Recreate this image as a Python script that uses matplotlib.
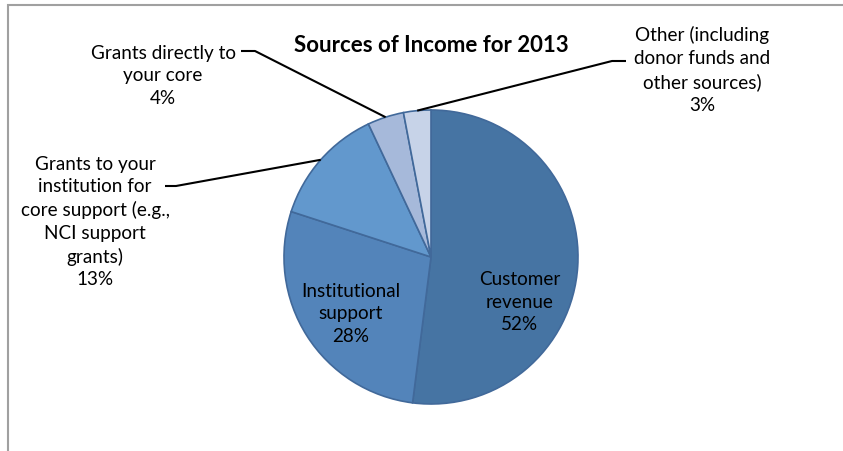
import numpy as np
import matplotlib.pyplot as plt
from matplotlib.patches import Rectangle

# Data
labels = ["Customer\nrevenue", "Institutional\nsupport",
          "Grants to your\ninstitution for\ncore support (e.g.,\nNCI support\ngrants)",
          "Grants directly to\nyour core",
          "Other (including\ndonor funds and\nother sources)"]
shares = [52, 28, 13, 4, 3]
colors = ["#4674A3", "#5384BA", "#6298CD", "#A6B9DA", "#C7D3E8"]
title = "Sources of Income for 2013"

W, H = 843, 452
plt.rcParams['font.family'] = ['Lato', 'DejaVu Sans']

fig = plt.figure(figsize=(W / 100, H / 100), dpi=100)
ax = fig.add_axes([0, 0, 1, 1])

# pixel helper (y measured from top)
def py(y):
    return H - y

cx, cy, r = 431, py(258), 147
wedges, _ = ax.pie(shares, colors=colors, startangle=90, counterclock=False,
                   center=(cx, cy), radius=r, frame=True,
                   wedgeprops=dict(edgecolor="#41699A", linewidth=1.2))
ax.set_xlim(0, W)
ax.set_ylim(0, H)
ax.set_aspect('equal')
ax.axis('off')

# chart frame (cropped on right/bottom)
ax.add_patch(Rectangle((8, -10), W + 20, py(6) + 10, fill=False,
                       edgecolor="#A0A0A0", linewidth=1.5))

ax.text(431, py(45), title, ha='center', va='center', fontsize=16,
        fontweight='bold')

fs = 13.6
ls = 1.4
# inside labels
ax.text(351, py(314), f"{labels[1]}\n{shares[1]}%", ha='center', va='center',
        fontsize=fs, linespacing=ls)
ax.text(520, py(302), f"{labels[0]}\n{shares[0]}%", ha='center', va='center',
        fontsize=fs, linespacing=ls)

# outside labels with leader lines
outside = [
    (2, (95, 222), [(165, 187), (176, 187)]),
    (3, (163, 76), [(241, 52), (255, 52)]),
    (4, (702, 70), [(626, 62), (612, 62)]),
]
for i, (tx, ty), pts in outside:
    ax.text(tx, py(ty), f"{labels[i]}\n{shares[i]}%", ha='center',
            va='center', fontsize=fs, linespacing=ls)
    w = wedges[i]
    mid = np.deg2rad((w.theta1 + w.theta2) / 2)
    ex, ey = cx + r * np.cos(mid), cy + r * np.sin(mid)
    xs = [p[0] for p in pts] + [ex]
    ys = [py(p[1]) for p in pts] + [ey]
    ax.plot(xs, ys, color='black', linewidth=1.5, solid_capstyle='butt')

fig.savefig("out.png", dpi=100)
